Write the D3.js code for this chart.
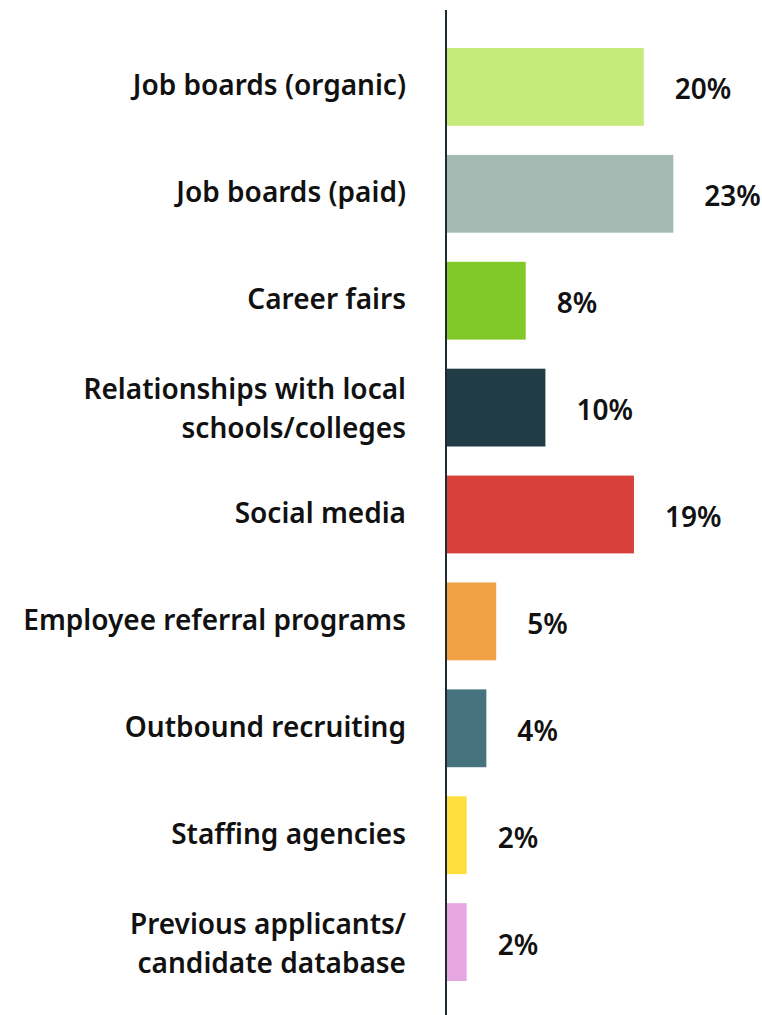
<!DOCTYPE html>
<html>
<head>
<meta charset="utf-8">
<script src="https://cdn.jsdelivr.net/npm/d3@7"></script>
<style>
  html, body { margin: 0; padding: 0; background: #ffffff; }
  svg { display: block; }
  text { font-family: "Noto Sans", "Open Sans", sans-serif; font-weight: 600; fill: #111111; }
</style>
</head>
<body>
<svg id="chart" width="762" height="1015"></svg>
<script>
// Recruiting channels and share of hires
const categories = [
  ["Job boards (organic)"],
  ["Job boards (paid)"],
  ["Career fairs"],
  ["Relationships with local", "schools/colleges"],
  ["Social media"],
  ["Employee referral programs"],
  ["Outbound recruiting"],
  ["Staffing agencies"],
  ["Previous applicants/", "candidate database"]
];
const values = [20, 23, 8, 10, 19, 5, 4, 2, 2];
const colors = ["#c5eb7b", "#a5bab3", "#82c828", "#223c45", "#d8413b", "#f0a143", "#47737f", "#fedf3e", "#e6a6e0"];

const svg = d3.select("#chart");
const W = 762, H = 1015;

const axisX = 446;
const x = d3.scaleLinear().domain([0, 25]).range([axisX + 1, axisX + 1 + 246]);
const y = d3.scaleBand()
  .domain(d3.range(values.length))
  .range([48, 981])
  .paddingInner(0.272)
  .paddingOuter(0);

const rows = values.map((v, i) => ({ v, i, label: categories[i], color: colors[i] }));
const mid = i => y(i) + y.bandwidth() / 2;

// bars
svg.append("g").selectAll("rect")
  .data(rows)
  .join("rect")
  .attr("x", x(0))
  .attr("y", d => y(d.i))
  .attr("width", d => x(d.v) - x(0))
  .attr("height", y.bandwidth())
  .attr("fill", d => d.color);

// vertical baseline
svg.append("line")
  .attr("x1", axisX).attr("x2", axisX)
  .attr("y1", 10).attr("y2", H)
  .attr("stroke", "#1e2b30")
  .attr("stroke-width", 2);

// category labels (baseline positions; wrapped labels stack around the bar centre)
const fs = 28;
const lineH = 39;
const lab = svg.append("g").selectAll("text")
  .data(rows)
  .join("text")
  .attr("text-anchor", "end")
  .attr("font-size", fs)
  .attr("x", 406)
  .attr("y", d => d.label.length === 1
    ? mid(d.i) + 8.5
    : mid(d.i) + 11 - (d.label.length - 1) * lineH / 2);
lab.selectAll("tspan")
  .data(d => d.label.map((t, k) => ({ t, k })))
  .join("tspan")
  .attr("x", 406)
  .attr("dy", d => d.k === 0 ? 0 : lineH)
  .text(d => d.t);

// value labels
svg.append("g").selectAll("text")
  .data(rows)
  .join("text")
  .attr("font-size", fs)
  .attr("x", d => x(d.v) + 31)
  .attr("y", d => mid(d.i) + 12.5)
  .text(d => d.v + "%");
</script>
</body>
</html>
